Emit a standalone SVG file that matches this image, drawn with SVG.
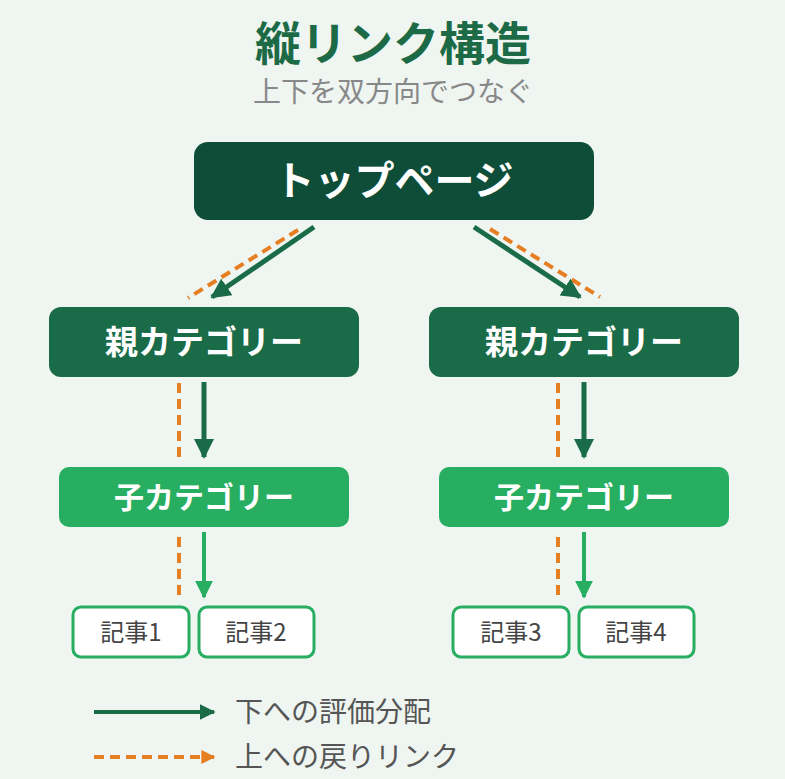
<svg xmlns="http://www.w3.org/2000/svg" width="785" height="779" viewBox="0 0 785 779">
<defs>
<style>
text{font-family:"Noto Sans CJK JP","Noto Sans",sans-serif;text-anchor:middle}
.w{fill:#fff;font-weight:bold}
.art{fill:#fff;stroke:#27ae60;stroke-width:3}
.at{fill:#444;font-size:24px}
.g{stroke:#1a6b47;stroke-width:5;fill:none}
.lg{stroke:#27ae60;stroke-width:4;fill:none}
.o{stroke:#e67e22;stroke-width:4;stroke-dasharray:10 6;fill:none}
</style>
<marker id="ag" viewBox="0 0 10 10" refX="9" refY="5" markerWidth="4" markerHeight="4" orient="auto" markerUnits="strokeWidth"><path d="M0,0L10,5L0,10z" fill="#1a6b47"/></marker>
<marker id="al" viewBox="0 0 10 10" refX="9" refY="5" markerWidth="4.5" markerHeight="4.5" orient="auto" markerUnits="strokeWidth"><path d="M0,0L10,5L0,10z" fill="#27ae60"/></marker>
<marker id="ao" viewBox="0 0 10 10" refX="9" refY="5" markerWidth="3.5" markerHeight="3.5" orient="auto" markerUnits="strokeWidth"><path d="M0,0L10,5L0,10z" fill="#e67e22"/></marker>
</defs>
<rect width="785" height="779" fill="#eff5f1"/>
<text x="393" y="60" font-size="46" font-weight="bold" fill="#1d6b46">縦リンク構造</text>
<text x="393" y="102" font-size="28" fill="#888">上下を双方向でつなぐ</text>
<g id="connectors">
<line class="o" x1="298" y1="230" x2="188" y2="298"/>
<line class="g" x1="314" y1="227" x2="212" y2="297" marker-end="url(#ag)"/>
<line class="o" x1="490" y1="229" x2="600" y2="297"/>
<line class="g" x1="474" y1="227" x2="580" y2="297" marker-end="url(#ag)"/>
<line class="o" x1="179" y1="383" x2="179" y2="457"/>
<line class="g" x1="204" y1="382" x2="204" y2="457" marker-end="url(#ag)"/>
<line class="o" x1="558" y1="383" x2="558" y2="457"/>
<line class="g" x1="584" y1="382" x2="584" y2="457" marker-end="url(#ag)"/>
<line class="o" x1="179" y1="537" x2="179" y2="597"/>
<line class="lg" x1="204" y1="532" x2="204" y2="597" marker-end="url(#al)"/>
<line class="o" x1="558" y1="537" x2="558" y2="597"/>
<line class="lg" x1="584" y1="532" x2="584" y2="597" marker-end="url(#al)"/>
</g>
<g id="top"><rect x="194" y="142" width="400" height="78" rx="14" fill="#0e4d38"/><text class="w" x="394" y="195" font-size="40">トップページ</text></g>
<g id="parent1"><rect x="49" y="307" width="310" height="70" rx="12" fill="#1a6b47"/><text class="w" x="204" y="354" font-size="33">親カテゴリー</text></g>
<g id="parent2"><rect x="429" y="307" width="310" height="70" rx="12" fill="#1a6b47"/><text class="w" x="584" y="354" font-size="33">親カテゴリー</text></g>
<g id="child1"><rect x="59" y="467" width="290" height="60" rx="10" fill="#27ae60"/><text class="w" x="204" y="508" font-size="30">子カテゴリー</text></g>
<g id="child2"><rect x="439" y="467" width="290" height="60" rx="10" fill="#27ae60"/><text class="w" x="584" y="508" font-size="30">子カテゴリー</text></g>
<g id="a1"><rect class="art" x="73" y="607" width="116" height="50" rx="8"/><text class="at" x="131" y="641">記事1</text></g>
<g id="a2"><rect class="art" x="199" y="607" width="115" height="50" rx="8"/><text class="at" x="256" y="641">記事2</text></g>
<g id="a3"><rect class="art" x="453" y="607" width="116" height="50" rx="8"/><text class="at" x="511" y="641">記事3</text></g>
<g id="a4"><rect class="art" x="579" y="607" width="115" height="50" rx="8"/><text class="at" x="636" y="641">記事4</text></g>
<g id="legend">
<line x1="94" y1="712" x2="214" y2="712" stroke="#1a6b47" stroke-width="4" marker-end="url(#ag)"/>
<line x1="94" y1="757" x2="214" y2="757" stroke="#e67e22" stroke-width="4" stroke-dasharray="10 6" marker-end="url(#ao)"/>
<text x="235" y="722" font-size="28" fill="#555" style="text-anchor:start">下への評価分配</text>
<text x="235" y="767" font-size="28" fill="#555" style="text-anchor:start">上への戻りリンク</text>
</g>
</svg>
